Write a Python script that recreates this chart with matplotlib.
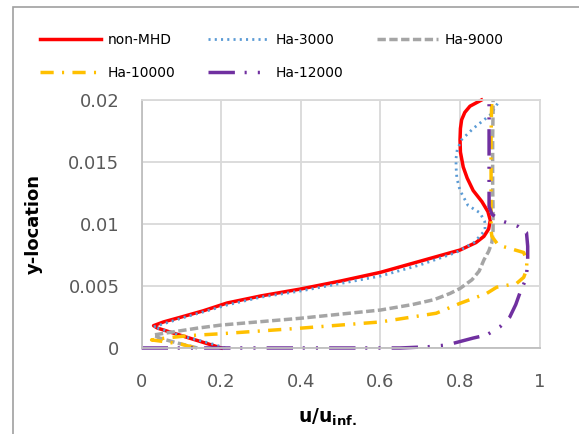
import matplotlib
matplotlib.use('Agg')
import matplotlib.pyplot as plt
from matplotlib.patches import Rectangle

plt.rcParams['lines.scale_dashes'] = False

# velocity profiles: u/u_inf against y-location
y_red = [0, 0.0004, 0.0009, 0.0013, 0.0016, 0.0018, 0.0021, 0.0025, 0.003, 0.00363, 0.0042, 0.00476,
         0.0054, 0.0061, 0.007, 0.0079, 0.0085, 0.009, 0.0096, 0.0103, 0.011, 0.0118, 0.0127, 0.0137,
         0.0146, 0.0158, 0.0168, 0.0177, 0.0184, 0.019, 0.0195, 0.02]
u_red = [0.2, 0.16, 0.11, 0.07, 0.04, 0.03, 0.055, 0.1, 0.155, 0.215, 0.3, 0.4,
         0.5, 0.6, 0.7, 0.8, 0.84, 0.86, 0.872, 0.876, 0.87, 0.855, 0.833, 0.818,
         0.808, 0.801, 0.8, 0.801, 0.804, 0.812, 0.825, 0.854]

y_blue = [0, 0.0004, 0.0009, 0.0013, 0.0016, 0.0017, 0.002, 0.0025, 0.003, 0.00347, 0.0041, 0.0046,
          0.0052, 0.0058, 0.0067, 0.0077, 0.0085, 0.0095, 0.0102, 0.0109, 0.0115, 0.0127, 0.0137,
          0.0146, 0.0153, 0.016, 0.0168, 0.0177, 0.0188, 0.02]
u_blue = [0.21, 0.17, 0.11, 0.07, 0.04, 0.03, 0.06, 0.11, 0.165, 0.215, 0.3, 0.4,
          0.5, 0.6, 0.7, 0.79, 0.835, 0.863, 0.862, 0.85, 0.82, 0.8, 0.792,
          0.79, 0.79, 0.793, 0.804, 0.833, 0.876, 0.9]

y_grey = [0, 0.0004, 0.0008, 0.00105, 0.0013, 0.0016, 0.00185, 0.0024, 0.00306, 0.0035, 0.0039,
          0.0044, 0.0048, 0.0055, 0.0062, 0.0071, 0.0078, 0.0085, 0.0095, 0.011, 0.013, 0.015,
          0.017, 0.019, 0.02]
u_grey = [0.14, 0.09, 0.045, 0.03, 0.08, 0.14, 0.2, 0.4, 0.6, 0.68, 0.735,
          0.775, 0.8, 0.83, 0.848, 0.86, 0.872, 0.88, 0.883, 0.883, 0.882, 0.882,
          0.882, 0.883, 0.883]

y_yel = [0, 0.0001, 0.0003, 0.0005, 0.00065, 0.0008, 0.001, 0.00115, 0.0016, 0.0021, 0.0028,
         0.0036, 0.0044, 0.0049, 0.0052, 0.0057, 0.0063, 0.007, 0.0077, 0.0083, 0.009,
         0.0095, 0.011, 0.013, 0.015, 0.017, 0.019, 0.02]
u_yel = [0.13, 0.125, 0.1, 0.06, 0.025, 0.06, 0.12, 0.2, 0.4, 0.6, 0.74,
         0.8, 0.867, 0.892, 0.942, 0.96, 0.967, 0.968, 0.96, 0.896, 0.88,
         0.878, 0.878, 0.878, 0.878, 0.878, 0.879, 0.88]

y_pur = [0, 0, 0, 0.0001, 0.00024, 0.0008, 0.00105, 0.0017, 0.0025, 0.0035, 0.0044, 0.0056,
         0.0069, 0.0082, 0.0093, 0.0098, 0.0103, 0.0108, 0.0114, 0.013, 0.015, 0.017, 0.019, 0.02]
u_pur = [0, 0.4, 0.65, 0.72, 0.767, 0.833, 0.867, 0.9, 0.925, 0.94, 0.95, 0.966,
         0.97, 0.97, 0.967, 0.946, 0.9, 0.88, 0.873, 0.873, 0.873, 0.873, 0.873, 0.873]

fig = plt.figure(figsize=(5.79, 4.34), dpi=100)
ax = fig.add_axes([0.2446, 0.1982, 0.6874, 0.5714])

h1, = ax.plot(u_red, y_red, color='#ff0000', lw=2.5, label='non-MHD', clip_on=False)
h2, = ax.plot(u_blue, y_blue, color='#5b9bd5', lw=2, dashes=(1.5, 3), label='Ha-3000', clip_on=False)
h3, = ax.plot(u_grey, y_grey, color='#a5a5a5', lw=2.5, dashes=(6, 2.5), label='Ha-9000', clip_on=False)
h4, = ax.plot(u_yel, y_yel, color='#ffc000', lw=2.5, dashes=(9.5, 6, 1.5, 6), label='Ha-10000', clip_on=False)
h5, = ax.plot(u_pur, y_pur, color='#7030a0', lw=2.5, dashes=(19, 7, 1.5, 8, 1.5, 8), label='Ha-12000', clip_on=False)

ax.set_xlim(0, 1)
ax.set_ylim(0, 0.02)
ax.set_xticks([0, 0.2, 0.4, 0.6, 0.8, 1])
ax.set_xticklabels(['0', '0.2', '0.4', '0.6', '0.8', '1'])
ax.set_yticks([0, 0.005, 0.01, 0.015, 0.02])
ax.set_yticklabels(['0', '0.005', '0.01', '0.015', '0.02'])
ax.tick_params(length=0, labelsize=13, labelcolor='#595959')
ax.tick_params(axis='x', pad=18)
ax.tick_params(axis='y', pad=16)
ax.grid(color='#d9d9d9', lw=1.3)
ax.set_axisbelow(True)
for s in ax.spines.values():
    s.set_color('#d9d9d9')
    s.set_linewidth(1.3)
ax.spines['left'].set_color('#bfbfbf')
ax.spines['bottom'].set_color('#bfbfbf')

ax.set_ylabel('y-location', fontsize=13, fontweight='bold')
ax.yaxis.set_label_coords(-0.248, 0.5)
ax.set_xlabel(r'$\mathbf{u/u_{inf.}}$', fontsize=13.5)
ax.xaxis.set_label_coords(0.466, -0.235)

fig.legend([h1, h4, h2, h5, h3], ['non-MHD', 'Ha-10000', 'Ha-3000', 'Ha-12000', 'Ha-9000'],
           ncol=3, loc='upper left', bbox_to_anchor=(40 / 579, 1 - 33 / 434),
           frameon=False, fontsize=10, handlelength=4.4, handletextpad=0.45,
           columnspacing=2.4, labelspacing=1.35, borderpad=0, borderaxespad=0)

fig.patches.append(Rectangle((13 / 579, -0.1), 1.2, 1.1 - 7 / 434, transform=fig.transFigure,
                             fill=False, edgecolor='#a0a0a0', lw=1.2))

fig.savefig('out.png', dpi=100)
